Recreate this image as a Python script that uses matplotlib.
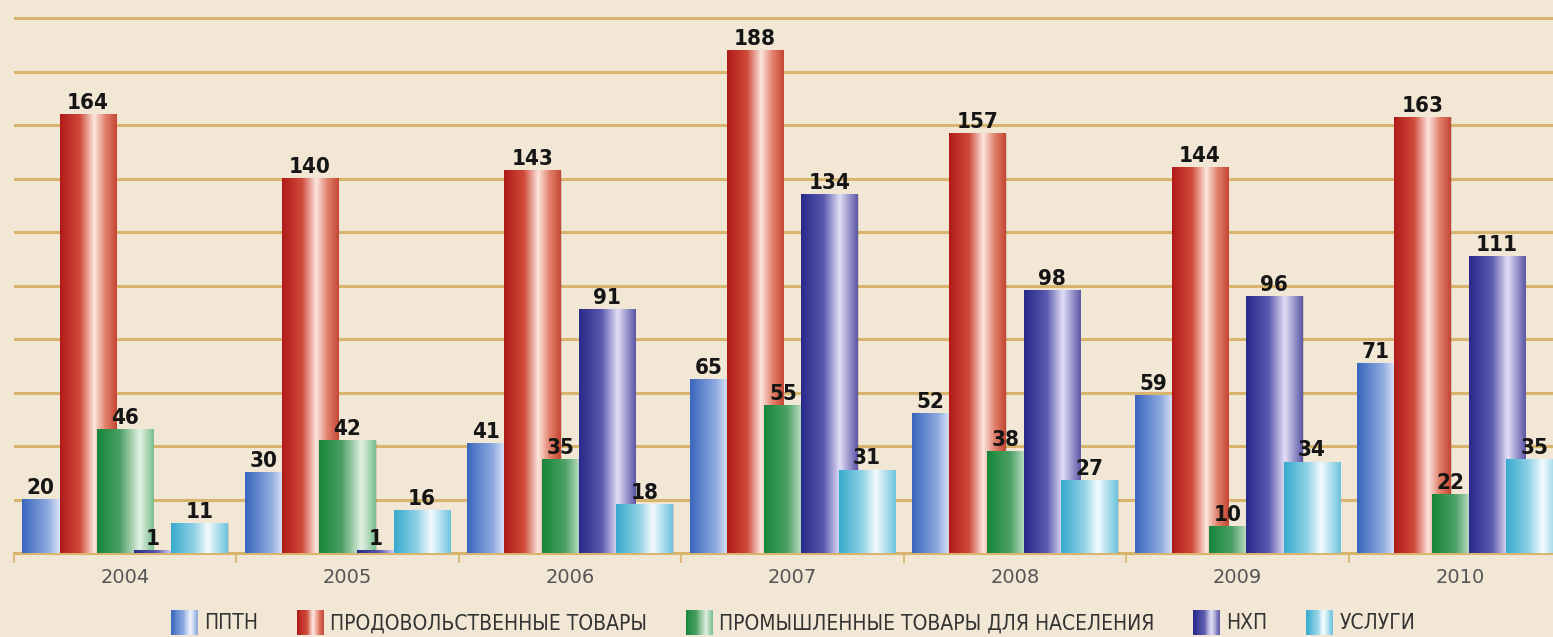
import numpy as np
import matplotlib
matplotlib.use("Agg")
import matplotlib.pyplot as plt
from matplotlib.colors import LinearSegmentedColormap
from matplotlib.patches import Rectangle, Patch
from matplotlib.legend_handler import HandlerBase

# data
years = ['2004', '2005', '2006', '2007', '2008', '2009', '2010']
series_names = ['ППТН', 'ПРОДОВОЛЬСТВЕННЫЕ ТОВАРЫ',
                'ПРОМЫШЛЕННЫЕ ТОВАРЫ ДЛЯ НАСЕЛЕНИЯ', 'НХП', 'УСЛУГИ']
pptn = [20, 30, 41, 65, 52, 59, 71]
food = [164, 140, 143, 188, 157, 144, 163]
industrial = [46, 42, 35, 55, 38, 10, 22]
nhp = [1, 1, 91, 134, 98, 96, 111]
services = [11, 16, 18, 31, 27, 34, 35]

# cylinder-like gradients (left edge -> highlight -> right edge)
gradients = [
    [(0.0, '#3966bd'), (0.45, '#8eaae0'), (0.72, '#eef2fc'), (1.0, '#8aa6dc')],
    [(0.0, '#b01a1a'), (0.35, '#cf4a38'), (0.6, '#fbe6de'), (0.8, '#e2826e'), (1.0, '#c54632')],
    [(0.0, '#168638'), (0.4, '#4ba065'), (0.75, '#e2f1e2'), (1.0, '#7abf90')],
    [(0.0, '#28298a'), (0.4, '#5a5aae'), (0.68, '#e2def6'), (1.0, '#5a56a6')],
    [(0.0, '#37aacd'), (0.4, '#8fd1e5'), (0.65, '#f3fbff'), (1.0, '#6dc3dd')],
]
cmaps = [LinearSegmentedColormap.from_list(f'g{i}', g) for i, g in enumerate(gradients)]

bg = '#f1e7d4'
gold = '#d8b46c'

values = [pptn, food, industrial, nhp, services]
x = np.arange(len(years))
step = 0.1676
width = 0.252
start = -0.463

fig = plt.figure(figsize=(15.53, 6.37), dpi=100, facecolor=bg)
ax = fig.add_axes([14 / 1553, 84 / 637, 1 - 14 / 1553, 553 / 637])
ax.set_facecolor(bg)

grad = np.linspace(0, 1, 256).reshape(1, -1)
for i, vals in enumerate(values):
    for g, v in enumerate(vals):
        left = x[g] + start + i * step
        z = 3 + i * 2
        # soft shadow on the right
        ax.add_patch(Rectangle((left + 0.006, 0), width, v, facecolor='black',
                               alpha=0.12, edgecolor='none', zorder=z - 0.5))
        ax.imshow(grad, extent=(left, left + width, 0, v), aspect='auto',
                  cmap=cmaps[i], interpolation='bilinear', zorder=z)
        # label over the visible top part of the bar
        if i < len(values) - 1 and values[i + 1][g] >= v:
            cx = left + step / 2
        else:
            cx = left + width / 2
        ax.text(cx, v + 0.6, str(v), ha='center', va='bottom', fontsize=16,
                fontweight='bold', fontstretch='condensed', color='#151515',
                family='DejaVu Sans', zorder=20)

ax.set_yticks(range(20, 201, 20))
ax.tick_params(axis='y', length=0, labelleft=False)
ax.yaxis.grid(True, color=gold, lw=2.2)
ax.set_axisbelow(True)

ax.set_xticks(np.arange(-0.5, 7, 1))
ax.set_xticklabels([])
ax.tick_params(axis='x', which='major', length=7, width=1.2, color=gold)
ax.set_xticks(x, minor=True)
ax.set_xticklabels(years, minor=True, fontsize=14, color='#555555')
ax.tick_params(axis='x', which='minor', length=0, pad=11)

# limits last, set_xticks would widen them
ax.set_xlim(-0.5, 6.418)
ax.set_ylim(0, 206.8)
ax.set_aspect('auto')

for s in ['left', 'right', 'top']:
    ax.spines[s].set_visible(False)
ax.spines['bottom'].set_color(gold)
ax.spines['bottom'].set_linewidth(2.2)
ax.spines['bottom'].set_zorder(1)


class GradientHandler(HandlerBase):
    def __init__(self, cmap):
        super().__init__()
        self.cmap = cmap

    def create_artists(self, legend, orig_handle, xdescent, ydescent,
                       width, height, fontsize, trans):
        n = 30
        arts = []
        for k in range(n):
            arts.append(Rectangle((-xdescent + width * k / n, -ydescent - 2),
                                  width / n * 1.1, height + 4,
                                  facecolor=self.cmap((k + 0.5) / n),
                                  edgecolor='none', transform=trans))
        return arts


handles = [Patch(facecolor=c(0.3)) for c in cmaps]
hmap = {h: GradientHandler(c) for h, c in zip(handles, cmaps)}
fig.legend(handles, series_names, handler_map=hmap, ncol=5, loc='center',
           bbox_to_anchor=(0.5107, 14 / 637), frameon=False,
           prop={'family': 'DejaVu Sans', 'stretch': 'condensed', 'size': 15},
           labelcolor='#333333',
           handlelength=1.3, handleheight=1.05, handletextpad=0.3,
           columnspacing=1.85, borderpad=0, borderaxespad=0)

fig.savefig('out.png', dpi=100, facecolor=bg)
